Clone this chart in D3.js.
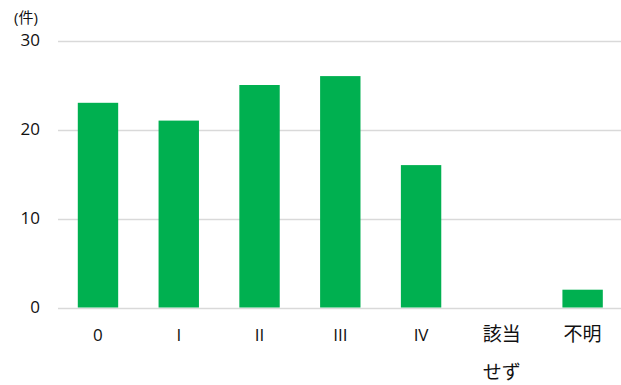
<!DOCTYPE html>
<html><head><meta charset="utf-8">
<script src="https://cdn.jsdelivr.net/npm/d3@7"></script>
<style>body{margin:0;background:#fff}svg{display:block}text{font-family:"Open Sans","Noto Sans CJK JP",sans-serif}</style>
</head><body>
<svg id="c" width="621" height="385"></svg>
<script>
const categories = ["0", "I", "II", "III", "IV", "該当\nせず", "不明"];
const values = [23, 21, 25, 26, 16, 0, 2];
const yTicks = [0, 10, 20, 30];
const unitLabel = "(件)";

const svg = d3.select("#c");
const x = d3.scaleBand().domain(categories).range([57.6, 623]).paddingInner(0.5).paddingOuter(0.25);
const y = d3.scaleLinear().domain([0, 30]).range([307.5, 40.5]);

// gridlines
svg.append("g").selectAll("line").data(yTicks).join("line")
  .attr("x1", 58).attr("x2", 621)
  .attr("y1", d => Math.round(y(d)) + 0.5).attr("y2", d => Math.round(y(d)) + 0.5)
  .attr("stroke", "#d9d9d9").attr("stroke-width", 1.3);

// y axis labels
const yAxis = d3.axisLeft(y).tickValues(yTicks).tickSize(0).tickPadding(0);
const gy = svg.append("g").attr("transform", "translate(40,0)").call(yAxis);
gy.select(".domain").remove();
gy.selectAll("text").attr("font-size", 17).attr("fill", "#111").attr("font-family", '"Open Sans",sans-serif');

svg.append("text").attr("x", 26).attr("y", 23).attr("text-anchor", "middle")
  .attr("font-size", 15).attr("fill", "#111").text(unitLabel);

// bars
svg.append("g").selectAll("rect").data(values).join("rect")
  .attr("x", (d, i) => x(categories[i]))
  .attr("width", x.bandwidth())
  .attr("y", d => y(d))
  .attr("height", d => y(0) - y(d))
  .attr("fill", "#00B050");

// x labels
const gx = svg.append("g");
categories.forEach(c => {
  const lines = c.split("\n");
  const cjk = /[^\x00-\x7F]/.test(c);
  const t = gx.append("text").attr("text-anchor", "middle").attr("font-size", cjk ? 19 : 17).attr("fill", "#111");
  lines.forEach((l, j) => {
    t.append("tspan").attr("x", x(c) + x.bandwidth() / 2).attr("y", 341 + j * 38).text(l);
  });
});
</script>
</body></html>
